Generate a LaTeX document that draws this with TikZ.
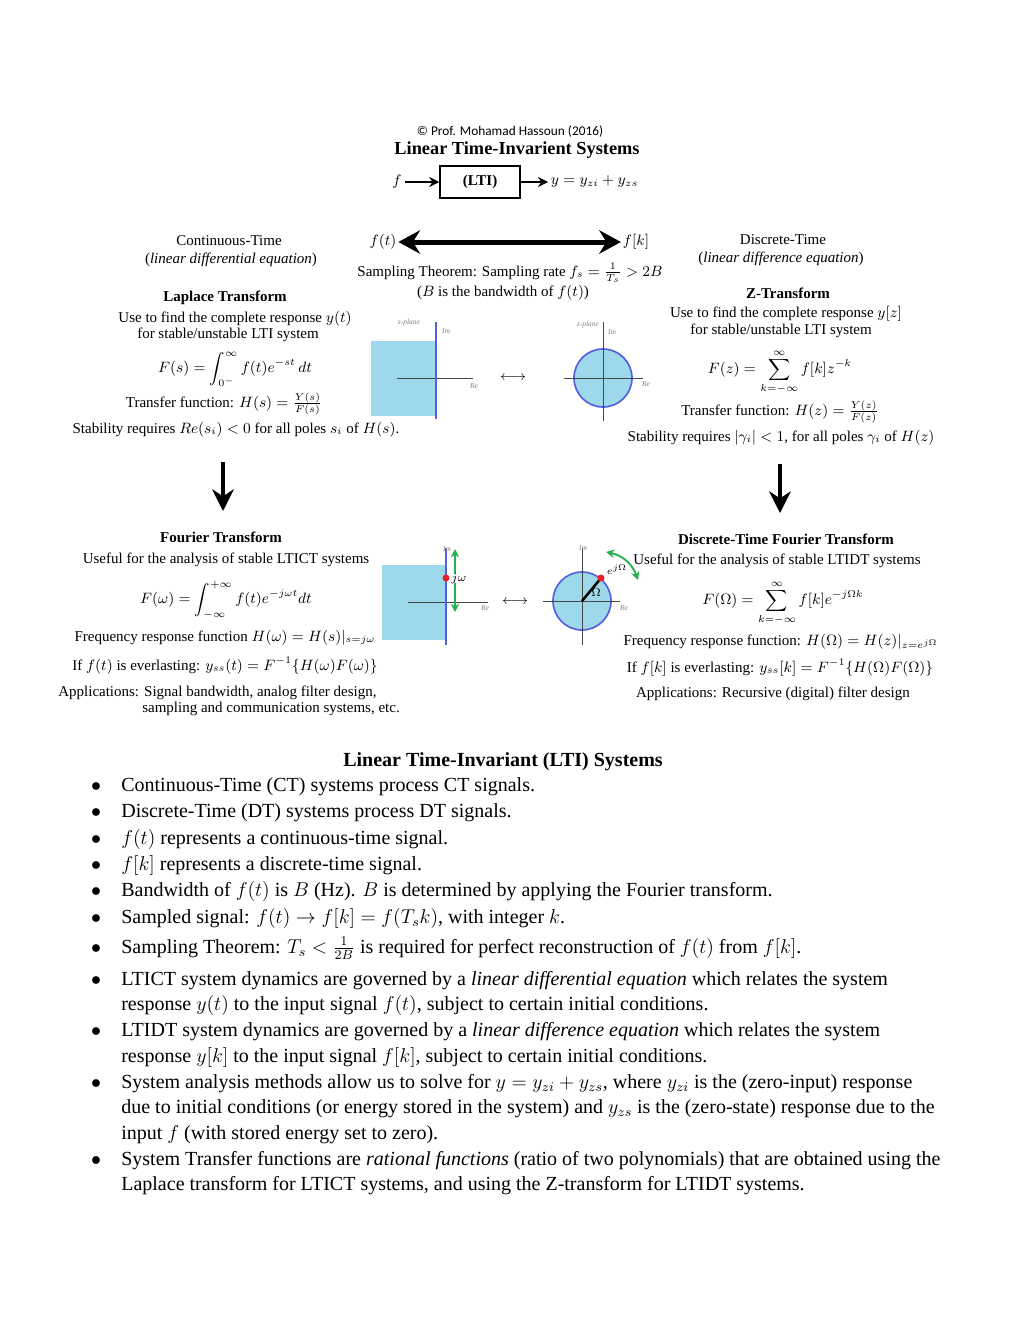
\documentclass[tikz,border=0pt]{standalone}
\usepackage{fontspec}
\setmainfont{Liberation Serif}
\newfontfamily\notefont{Carlito}
\usepackage{amsmath}
\usetikzlibrary{arrows.meta}

\definecolor{planeblue}{RGB}{157,217,234}
\definecolor{edgeblue}{RGB}{84,96,222}
\definecolor{axisgray}{RGB}{70,70,70}
\definecolor{arrowgreen}{RGB}{34,177,76}
\definecolor{dotred}{RGB}{235,30,35}

\tikzset{
  txt/.style={inner sep=0pt, anchor=base, font=\fontsize{9}{10.5}\selectfont},
  hd/.style={txt, font=\fontsize{9}{10.5}\selectfont\bfseries},
  eq/.style={inner sep=0pt, anchor=center, font=\fontsize{9}{10.5}\selectfont},
  planelbl/.style={inner sep=0pt, font=\fontsize{4.5}{5}\selectfont\itshape, text=gray},
  axis/.style={draw=axisgray, line width=0.6pt},
  edge/.style={draw=edgeblue, line width=1.1pt},
  thinarrow/.style={line width=0.9pt, -{Stealth[length=6pt,width=6pt]}},
  fatarrow/.style={line width=2.6pt, -{Stealth[length=13pt,width=13pt]}},
  greenarrow/.style={draw=arrowgreen, line width=1.1pt, -{Stealth[length=5pt,width=5pt]}},
  bul/.style={inner sep=0pt, anchor=base west, font=\fontsize{12}{14}\selectfont},
  dot/.style={inner sep=0pt, anchor=base, font=\fontsize{12}{14}\selectfont}
}

\begin{document}
\begin{tikzpicture}[x=0.6pt, y=-0.6pt]
  \useasboundingbox (0,0) rectangle (1020,1320);

  % header and block
  \node[inner sep=0pt, anchor=base, font=\notefont\fontsize{8}{9}\selectfont] (copy) at (510,135) {© Prof. Mohamad Hassoun (2016)};
  \node[hd, font=\fontsize{11}{12}\selectfont\bfseries] (title) at (517,154) {Linear Time-Invarient Systems};
  \node[draw, line width=0.9pt, minimum width=48pt, minimum height=19pt,
        font=\fontsize{9}{11}\selectfont\bfseries] (lti) at (480,182) {(LTI)};
  \node[eq, inner sep=2pt] (in) at (397,182) {$f$};
  \node[eq, anchor=west, inner sep=1.5pt] (out) at (548,182) {$y = y_{zi} + y_{zs}$};
  \draw[thinarrow] (in) -- (lti);
  \draw[thinarrow] (lti) -- (out);

  % sampling
  \node[eq, inner sep=1pt] (ft) at (383,242) {$f(t)$};
  \node[eq, inner sep=1pt] (fk) at (636,242) {$f[k]$};
  \draw[line width=3pt, {Stealth[length=13pt,width=14pt]}-{Stealth[length=13pt,width=14pt]}] (ft) -- (fk);
  \node[txt] (samp) at (510,276) {Sampling Theorem: Sampling rate $f_s = \tfrac{1}{T_s} > 2B$};
  \node[txt] (band) at (503,296) {($B$ is the bandwidth of $f(t)$)};

  % continuous-time side
  \node[txt] (ct) at (229,245) {Continuous-Time};
  \node[txt] (ctode) at (231,263) {(\textit{linear differential equation})};
  \node[hd] (lap) at (225,301) {Laplace Transform};
  \node[txt] (lapuse) at (235,322) {Use to find the complete response $y(t)$};
  \node[txt] (lapsys) at (228,338) {for stable/unstable LTI system};
  \node[eq] (lapeq) at (235,369) {$F(s) = \displaystyle\int_{0^-}^{\infty} f(t)e^{-st}\,dt$};
  \node[eq] (laptf) at (224,404) {Transfer function: $H(s) = \frac{Y(s)}{F(s)}$};
  \node[txt] (lapstab) at (236,433) {Stability requires $Re(s_i) < 0$ for all poles $s_i$ of $H(s)$.};

  % discrete-time side
  \node[txt] (dt) at (783,244) {Discrete-Time};
  \node[txt] (dtode) at (781,262) {(\textit{linear difference equation})};
  \node[hd] (zt) at (788,298) {Z-Transform};
  \node[txt] (ztuse) at (786,317) {Use to find the complete response $y[z]$};
  \node[txt] (ztsys) at (781,334) {for stable/unstable LTI system};
  \node[eq] (zteq) at (780,372) {$F(z) = \displaystyle\sum_{k=-\infty}^{\infty} f[k]z^{-k}$};
  \node[eq] (zttf) at (780,412) {Transfer function: $H(z) = \frac{Y(z)}{F(z)}$};
  \node[txt] (ztstab) at (781,441) {Stability requires $|\gamma_i| < 1$, for all poles $\gamma_i$ of $H(z)$};

  % s-plane and z-plane
  \fill[planeblue] (371,341) rectangle (436,416);
  \draw[axis] (397,378) -- (473,378);
  \draw[edge] (436,322) -- (436,419);
  \node[planelbl] (sp1) at (409,323) {s-plane};
  \node[planelbl] (im1) at (446,331) {Im};
  \node[planelbl] (re1) at (474,386) {Re};
  \node[eq, font=\fontsize{8}{9}\selectfont] (lr1) at (513,378) {$\longleftrightarrow$};
  \filldraw[fill=planeblue, draw=edgeblue, line width=1pt] (603,378) circle[radius=29];
  \draw[axis] (564,378) -- (643,378);
  \draw[axis] (603,322) -- (603,421);
  \node[planelbl] (zp1) at (588,325) {z-plane};
  \node[planelbl] (im2) at (612,332) {Im};
  \node[planelbl] (re2) at (646,384) {Re};

  % arrows down
  \coordinate (dl1) at (223,462);
  \coordinate (dl2) at (223,511);
  \coordinate (dr1) at (780,464);
  \coordinate (dr2) at (780,513);
  \draw[fatarrow] (dl1) -- (dl2);
  \draw[fatarrow] (dr1) -- (dr2);

  % Fourier transform
  \node[hd] (ft0) at (221,542) {Fourier Transform};
  \node[txt] (ftuse) at (226,563) {Useful for the analysis of stable LTICT systems};
  \node[eq] (fteq) at (226,600) {$F(\omega) = \displaystyle\int_{-\infty}^{+\infty} f(t)e^{-j\omega t}dt$};
  \node[txt] (ftfr) at (225,641) {Frequency response function $H(\omega) = H(s)|_{s=j\omega}$};
  \node[txt] (ftss) at (225,670) {If $f(t)$ is everlasting: $y_{ss}(t) = F^{-1}\{H(\omega)F(\omega)\}$};
  \node[txt, anchor=base west] (ftapp) at (58,696) {Applications: Signal bandwidth, analog filter design,};
  \node[txt, anchor=base west] (ftapp2) at (142,712) {sampling and communication systems, etc.};

  % jw axis and unit circle
  \fill[planeblue] (382,565) rectangle (446,640);
  \draw[axis] (408,602) -- (488,602);
  \draw[edge] (446,548) -- (446,645);
  \node[planelbl] (im3) at (447,549) {Im};
  \node[planelbl] (re3) at (485,608) {Re};
  \coordinate (jw) at (446,578);
  \coordinate (jwup) at (455,549);
  \coordinate (jwdn) at (455,612);
  \draw[greenarrow] (455,574) -- (jwup);
  \draw[greenarrow] (455,583) -- (jwdn);
  \fill[dotred] (jw) circle[radius=3.5];
  \node[eq, anchor=west, font=\fontsize{7.5}{8}\selectfont] (jwl) at (451,579) {$j\omega$};
  \node[eq, font=\fontsize{8}{9}\selectfont] (lr2) at (515,602) {$\longleftrightarrow$};
  \coordinate (o) at (582,601);
  \coordinate (ejw) at (601,578);
  \filldraw[fill=planeblue, draw=edgeblue, line width=1pt] (o) circle[radius=29];
  \draw[axis] (543,601) -- (620,601);
  \draw[axis] (582,548) -- (582,645);
  \draw[line width=1.5pt] (o) -- (ejw);
  \fill[dotred] (ejw) circle[radius=3.5];
  \node[eq, font=\fontsize{7}{8}\selectfont] (om) at (596,593) {$\Omega$};
  \node[eq, font=\fontsize{6.5}{7}\selectfont] (ejwl) at (617,570) {$e^{j\Omega}$};
  \node[planelbl] (im4) at (583,548) {Im};
  \node[planelbl] (re4) at (624,608) {Re};
  \coordinate (ga) at (606,552);
  \coordinate (gb) at (638,580);
  \draw[draw=arrowgreen, line width=1.1pt, {Stealth[length=5pt,width=5pt]}-{Stealth[length=5pt,width=5pt]}] (ga) to[bend left=30] (gb);

  % discrete-time fourier transform
  \node[hd] (dtft) at (786,544) {Discrete-Time Fourier Transform};
  \node[txt] (dtftuse) at (777,564) {Useful for the analysis of stable LTIDT systems};
  \node[eq] (dtfteq) at (783,603) {$F(\Omega) = \displaystyle\sum_{k=-\infty}^{\infty} f[k]e^{-j\Omega k}$};
  \node[txt] (dtftfr) at (781,645) {Frequency response function: $H(\Omega) = H(z)|_{z=e^{j\Omega}}$};
  \node[txt] (dtftss) at (780,672) {If $f[k]$ is everlasting: $y_{ss}[k] = F^{-1}\{H(\Omega)F(\Omega)\}$};
  \node[txt] (dtftapp) at (773,697) {Applications: Recursive (digital) filter design};

  % notes
  \node[dot, font=\fontsize{12}{14}\selectfont\bfseries] (notes) at (503,766) {Linear Time-Invariant (LTI) Systems};
  \foreach \y [count=\i] in {791,817,844,870,896,923,953,985,1036,1088,1165}
    \node[dot] (b\i) at (96,\y) {$\bullet$};
  \node[bul] (l1) at (121,791) {Continuous-Time (CT) systems process CT signals.};
  \node[bul] (l2) at (121,817) {Discrete-Time (DT) systems process DT signals.};
  \node[bul] (l3) at (121,844) {$f(t)$ represents a continuous-time signal.};
  \node[bul] (l4) at (121,870) {$f[k]$ represents a discrete-time signal.};
  \node[bul] (l5) at (121,896) {Bandwidth of $f(t)$ is $B$ (Hz). $B$ is determined by applying the Fourier transform.};
  \node[bul] (l6) at (121,923) {Sampled signal: $f(t) \rightarrow f[k] = f(T_s k)$, with integer $k$.};
  \node[bul] (l7) at (121,953) {Sampling Theorem: $T_s < \frac{1}{2B}$ is required for perfect reconstruction of $f(t)$ from $f[k]$.};
  \node[bul] (l8) at (121,985) {LTICT system dynamics are governed by a \textit{linear differential equation} which relates the system};
  \node[bul] (l8b) at (121,1010) {response $y(t)$ to the input signal $f(t)$, subject to certain initial conditions.};
  \node[bul] (l9) at (121,1036) {LTIDT system dynamics are governed by a \textit{linear difference equation} which relates the system};
  \node[bul] (l9b) at (121,1062) {response $y[k]$ to the input signal $f[k]$, subject to certain initial conditions.};
  \node[bul] (l10) at (121,1088) {System analysis methods allow us to solve for $y = y_{zi} + y_{zs}$, where $y_{zi}$ is the (zero-input) response};
  \node[bul] (l10b) at (121,1113) {due to initial conditions (or energy stored in the system) and $y_{zs}$ is the (zero-state) response due to the};
  \node[bul] (l10c) at (121,1139) {input $f$ (with stored energy set to zero).};
  \node[bul] (l11) at (121,1165) {System Transfer functions are \textit{rational functions} (ratio of two polynomials) that are obtained using the};
  \node[bul] (l11b) at (121,1190) {Laplace transform for LTICT systems, and using the Z-transform for LTIDT systems.};
\end{tikzpicture}
\end{document}
